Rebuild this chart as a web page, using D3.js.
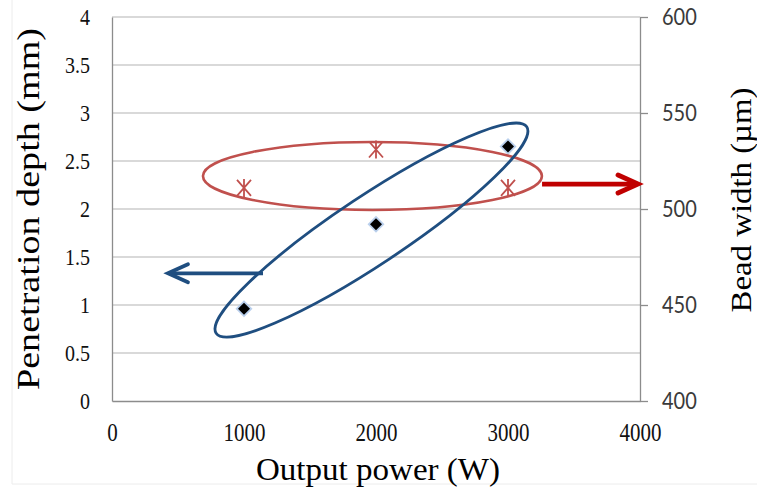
<!DOCTYPE html>
<html>
<head>
<meta charset="utf-8">
<script src="https://cdn.jsdelivr.net/npm/d3@7"></script>
<style>
	body { margin: 0; background: #fff; }
	svg { display: block; }
</style>
</head>
<body>
<svg width="757" height="491"></svg>
<script>

var power = [1000, 2000, 3000],
	penetration = [0.96, 1.84, 2.65],
	beadWidth = [511, 531, 511];

var xTicks = [0, 1000, 2000, 3000, 4000],
	leftTicks = [0, 0.5, 1, 1.5, 2, 2.5, 3, 3.5, 4],
	rightTicks = [400, 450, 500, 550, 600];

// hand drawn marks on the figure, in data units
var redRing = [{ x: 1973, y: 517.2, rx: 1284, ry: 17.7 }],
	blueRing = [{ x1: 789, y1: 0.706, x2: 3142, y2: 2.856, ry: 34 }],
	blueArrow = [{ from: 1144, to: 424, y: 1.33 }],
	redArrow = [{ from: 3258, to: 3985, y: 513 }];

var svg, x, yL, yR, serif, sans;

serif = '"Liberation Serif", "Times New Roman", serif';
sans = 'Lato, "Liberation Sans", sans-serif';

svg = d3.select('body svg');

x = d3.scaleLinear().domain([0, 4000]).range([112, 640]);
yL = d3.scaleLinear().domain([0, 4]).range([401, 17]);
yR = d3.scaleLinear().domain([400, 600]).range([401, 17]);


/*
	faint frame of the picture
*/
svg.append('path')
	.attr('d', 'M12,0V484H757')
	.style('fill', 'none')
	.style('stroke', '#ececec');


/*
	grid
*/
svg.append('g').selectAll('line')
	.data(leftTicks.slice(1))
	.enter().append('line')
	.attr('x1', x(0))
	.attr('x2', x(4000))
	.attr('y1', function (d) { return yL(d); })
	.attr('y2', function (d) { return yL(d); })
	.style('stroke', '#b4b4b4')
	.style('stroke-width', 1.2);


/*
	axes
*/
var left = svg.append('g')
	.attr('transform', 'translate(' + x(0) + ',0)')
	.call(d3.axisLeft(yL).tickValues(leftTicks).tickFormat(String).tickSize(0).tickPadding(22));

var right = svg.append('g')
	.attr('transform', 'translate(' + x(4000) + ',0)')
	.call(d3.axisRight(yR).tickValues(rightTicks).tickSize(8).tickSizeOuter(0).tickPadding(14));

var bottom = svg.append('g')
	.attr('transform', 'translate(0,' + yL(0) + ')')
	.call(d3.axisBottom(x).tickValues(xTicks).tickFormat(String).tickSize(0).tickPadding(20));

[left, right, bottom].forEach(function (g) {
	g.attr('font-family', null).attr('font-size', null);
	g.select('.domain').style('stroke', '#8c8c8c').style('stroke-width', 1.3);
	g.selectAll('.tick line').style('stroke', '#8c8c8c').style('stroke-width', 1.3);
	// the source figure is a little taller than it is wide
	g.selectAll('text').attr('transform', 'scale(1,1.15)');
});

left.selectAll('text').style('font-family', serif).style('font-size', '20px').style('fill', '#111');
bottom.selectAll('text').style('font-family', serif).style('font-size', '21px').style('fill', '#111');
right.selectAll('text').style('font-family', sans).style('font-size', '20px').style('fill', '#3a3a3a');


/*
	titles
*/
svg.append('text')
	.attr('transform', 'translate(28,209) rotate(-90)')
	.attr('text-anchor', 'middle')
	.attr('dominant-baseline', 'central')
	.attr('textLength', 362)
	.attr('lengthAdjust', 'spacingAndGlyphs')
	.style('font-family', serif)
	.style('font-size', '32px')
	.text('Penetration depth (mm)');

svg.append('text')
	.attr('transform', 'translate(741,200) rotate(-90)')
	.attr('text-anchor', 'middle')
	.attr('dominant-baseline', 'central')
	.attr('textLength', 225)
	.attr('lengthAdjust', 'spacingAndGlyphs')
	.style('font-family', serif)
	.style('font-size', '29px')
	.text('Bead width (\u00b5m)');

svg.append('text')
	.attr('x', 378)
	.attr('y', 480)
	.attr('text-anchor', 'middle')
	.attr('textLength', 244)
	.attr('lengthAdjust', 'spacingAndGlyphs')
	.style('font-family', serif)
	.style('font-size', '32px')
	.text('Output power (W)');


/*
	Bead width markers (asterisks)
*/
svg.append('g').selectAll('path')
	.data(power)
	.enter().append('path')
	.attr('transform', function (d, i) { return 'translate(' + x(d) + ',' + yR(beadWidth[i]) + ')'; })
	.attr('d', 'M-7,-8L7,8M-7,8L7,-8M0,-9V9')
	.style('fill', 'none')
	.style('stroke', '#c0504d')
	.style('stroke-width', 1.8);


/*
	Penetration markers (diamonds)
*/
var diamonds = svg.append('g').selectAll('g')
	.data(power)
	.enter().append('g')
	.attr('transform', function (d, i) { return 'translate(' + x(d) + ',' + yL(penetration[i]) + ')'; });

diamonds.append('path')
	.attr('d', 'M0,-8.5L8.5,0L0,8.5L-8.5,0Z')
	.style('fill', '#a9c4e8')
	.style('opacity', 0.8);

diamonds.append('path')
	.attr('d', 'M0,-6L6,0L0,6L-6,0Z')
	.style('fill', '#000');


/*
	Ellipses
*/
svg.append('g').selectAll('ellipse')
	.data(redRing)
	.enter().append('ellipse')
	.attr('cx', function (d) { return x(d.x); })
	.attr('cy', function (d) { return yR(d.y); })
	.attr('rx', function (d) { return x(d.x + d.rx) - x(d.x); })
	.attr('ry', function (d) { return yR(d.y) - yR(d.y + d.ry); })
	.style('fill', 'none')
	.style('stroke', '#c0504d')
	.style('stroke-width', 2.6);

svg.append('g').selectAll('ellipse')
	.data(blueRing)
	.enter().append('ellipse')
	.each(function (d) {
		var ax = x(d.x1), ay = yL(d.y1), bx = x(d.x2), by = yL(d.y2),
			cx = (ax + bx) / 2, cy = (ay + by) / 2,
			len = Math.sqrt((bx - ax) * (bx - ax) + (by - ay) * (by - ay)),
			ang = Math.atan2(by - ay, bx - ax) * 180 / Math.PI;
		d3.select(this)
			.attr('cx', 0).attr('cy', 0)
			.attr('rx', len / 2).attr('ry', d.ry)
			.attr('transform', 'translate(' + cx + ',' + cy + ') rotate(' + ang + ')');
	})
	.style('fill', 'none')
	.style('stroke', '#1f4e80')
	.style('stroke-width', 2.8);


/*
	Arrows
*/
function arrow(g, d, scaleY, colour, width) {
	var x0 = x(d.from), x1 = x(d.to), y = scaleY(d.y),
		dir = x1 > x0 ? -1 : 1;

	g.append('line')
		.attr('x1', x0).attr('x2', x1 + dir * 2)
		.attr('y1', y).attr('y2', y)
		.style('stroke', colour)
		.style('stroke-width', width);

	g.append('path')
		.attr('d', 'M' + (x1 + dir * 20) + ',' + (y - 9) + 'L' + x1 + ',' + y + 'L' + (x1 + dir * 20) + ',' + (y + 9))
		.style('fill', 'none')
		.style('stroke', colour)
		.style('stroke-width', width)
		.style('stroke-linecap', 'round')
		.style('stroke-linejoin', 'miter');
}

blueArrow.forEach(function (d) { arrow(svg.append('g'), d, yL, '#1f4e80', 3.8); });
redArrow.forEach(function (d) { arrow(svg.append('g'), d, yR, '#c00000', 4.8); });

</script>
</body>
</html>
